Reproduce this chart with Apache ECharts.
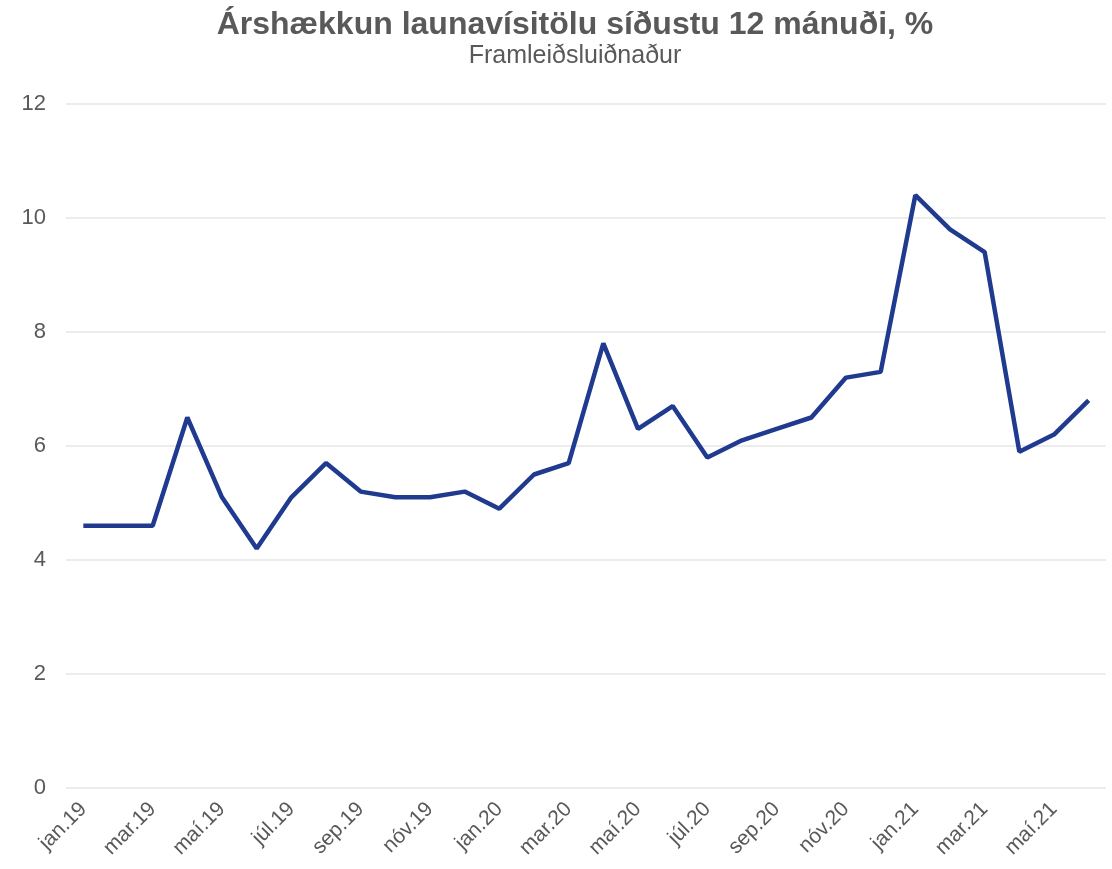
<!DOCTYPE html>
<html lang="is">
<head>
	<meta charset="UTF-8">
	<title>Árshækkun launavísitölu</title>
	<style>
		html, body { margin: 0; padding: 0; background: #fff; }
	</style>
</head>
<body>
	<div id="main" style="width: 1112px;height: 869px"></div>

	<script src="https://cdn.jsdelivr.net/npm/echarts@6/dist/echarts.min.js"></script>
	<script type="text/javascript">
	// mánuðir (x-ás)
	var months = ['jan.19','feb.19','mar.19','apr.19','maí.19','jún.19','júl.19','ágú.19','sep.19','okt.19','nóv.19','des.19',
		'jan.20','feb.20','mar.20','apr.20','maí.20','jún.20','júl.20','ágú.20','sep.20','okt.20','nóv.20','des.20',
		'jan.21','feb.21','mar.21','apr.21','maí.21','jún.21'];
	// árshækkun, %
	var values = [4.6, 4.6, 4.6, 6.5, 5.1, 4.2, 5.1, 5.7, 5.2, 5.1, 5.1, 5.2,
		4.9, 5.5, 5.7, 7.8, 6.3, 6.7, 5.8, 6.1, 6.3, 6.5, 7.2, 7.3,
		10.4, 9.8, 9.4, 5.9, 6.2, 6.8];
	var titleText = 'Árshækkun launavísitölu síðustu 12 mánuði, %';
	var subText = 'Framleiðsluiðnaður';

	var myChart = echarts.init(document.getElementById('main'));
	var option = {
		animation: false,
		title: {
			text: titleText,
			subtext: subText,
			left: 570,   // miðja titils
			textAlign: 'center',
			top: 4,
			itemGap: 3,
			textStyle: { fontFamily: 'Liberation Sans, Arial', fontSize: 32, fontWeight: 'bold', color: '#595959' },
			subtextStyle: { fontFamily: 'Liberation Sans, Arial', fontSize: 25, color: '#595959' }
		},
		grid: { left: 66, right: 6, top: 104, bottom: 81 },
		xAxis: {
			type: 'category',
			data: months,
			boundaryGap: true,
			axisLine: { show: false },
			axisTick: { show: false },
			axisLabel: {
				interval: 1,
				rotate: 45,
				margin: 18,
				fontFamily: 'Liberation Sans, Arial',
				fontSize: 21,
				color: '#595959'
			}
		},
		yAxis: {
			type: 'value',
			min: 0,
			max: 12,
			interval: 2,
			axisLine: { show: false },
			axisTick: { show: false },
			axisLabel: { margin: 20, fontFamily: 'Liberation Sans, Arial', fontSize: 22, color: '#595959' },
			splitLine: { lineStyle: { color: '#e6e6e6', width: 1.5 } }
		},
		series: [{
			type: 'line',
			data: values,
			symbol: 'none',
			lineStyle: { color: '#1f3a8f', width: 4.5 }
		}]
	};
	myChart.setOption(option);
	</script>
</body>
</html>
